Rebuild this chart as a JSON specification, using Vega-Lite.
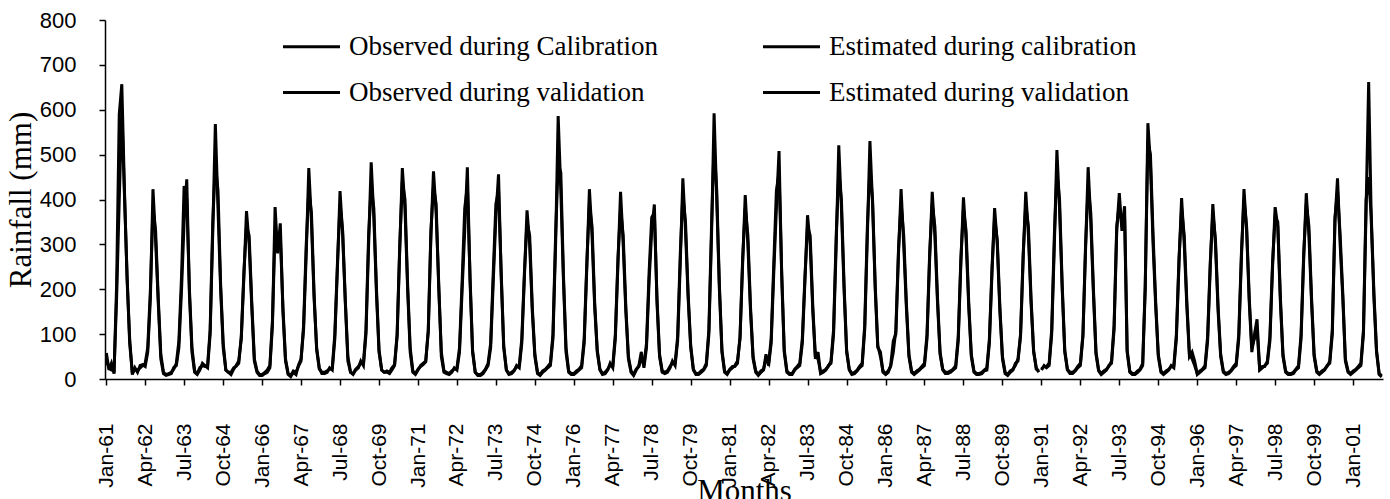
{
"$schema":"https://vega.github.io/schema/vega-lite/v6.json",
"width":1278,"height":359,
"autosize":"none",
"padding":{"left":105,"top":20,"right":7,"bottom":120},
"background":"white",
"config":{"view":{"stroke":null}},
"data":{"values":[
{"d":"1961-01","oc":58,"ec":40},{"d":"1961-02","oc":20,"ec":25},{"d":"1961-03","oc":35,"ec":20},{"d":"1961-04","oc":12,"ec":18},{"d":"1961-05","oc":210,"ec":180},{"d":"1961-06","oc":590,"ec":400},{"d":"1961-07","oc":657,"ec":600},{"d":"1961-08","oc":420,"ec":410},{"d":"1961-09","oc":220,"ec":230},{"d":"1961-10","oc":90,"ec":80},{"d":"1961-11","oc":10,"ec":15},{"d":"1961-12","oc":25,"ec":20},
{"d":"1962-01","oc":15,"ec":20},{"d":"1962-02","oc":30,"ec":25},{"d":"1962-03","oc":32,"ec":30},{"d":"1962-04","oc":28,"ec":35},{"d":"1962-05","oc":60,"ec":70},{"d":"1962-06","oc":180,"ec":200},{"d":"1962-07","oc":423,"ec":380},{"d":"1962-08","oc":310,"ec":330},{"d":"1962-09","oc":170,"ec":180},{"d":"1962-10","oc":45,"ec":55},{"d":"1962-11","oc":12,"ec":15},{"d":"1962-12","oc":8,"ec":10},
{"d":"1963-01","oc":10,"ec":12},{"d":"1963-02","oc":12,"ec":15},{"d":"1963-03","oc":25,"ec":22},{"d":"1963-04","oc":30,"ec":35},{"d":"1963-05","oc":70,"ec":85},{"d":"1963-06","oc":200,"ec":230},{"d":"1963-07","oc":350,"ec":430},{"d":"1963-08","oc":445,"ec":400},{"d":"1963-09","oc":190,"ec":200},{"d":"1963-10","oc":60,"ec":70},{"d":"1963-11","oc":15,"ec":18},{"d":"1963-12","oc":10,"ec":12},
{"d":"1964-01","oc":20,"ec":25},{"d":"1964-02","oc":35,"ec":30},{"d":"1964-03","oc":30,"ec":28},{"d":"1964-04","oc":25,"ec":30},{"d":"1964-05","oc":100,"ec":110},{"d":"1964-06","oc":330,"ec":350},{"d":"1964-07","oc":568,"ec":480},{"d":"1964-08","oc":380,"ec":420},{"d":"1964-09","oc":200,"ec":210},{"d":"1964-10","oc":70,"ec":80},{"d":"1964-11","oc":20,"ec":20},{"d":"1964-12","oc":15,"ec":15},
{"d":"1965-01","oc":10,"ec":15},{"d":"1965-02","oc":22,"ec":25},{"d":"1965-03","oc":30,"ec":28},{"d":"1965-04","oc":40,"ec":35},{"d":"1965-05","oc":90,"ec":95},{"d":"1965-06","oc":230,"ec":240},{"d":"1965-07","oc":374,"ec":340},{"d":"1965-08","oc":300,"ec":320},{"d":"1965-09","oc":160,"ec":170},{"d":"1965-10","oc":40,"ec":45},{"d":"1965-11","oc":15,"ec":18},{"d":"1965-12","oc":8,"ec":10},
{"d":"1966-01","oc":8,"ec":10},{"d":"1966-02","oc":12,"ec":15},{"d":"1966-03","oc":15,"ec":20},{"d":"1966-04","oc":25,"ec":30},{"d":"1966-05","oc":120,"ec":130},{"d":"1966-06","oc":383,"ec":330},{"d":"1966-07","oc":280,"ec":300},{"d":"1966-08","oc":347,"ec":320},{"d":"1966-09","oc":150,"ec":160},{"d":"1966-10","oc":40,"ec":45},{"d":"1966-11","oc":10,"ec":12},{"d":"1966-12","oc":5,"ec":8},
{"d":"1967-01","oc":15,"ec":18},{"d":"1967-02","oc":10,"ec":15},{"d":"1967-03","oc":30,"ec":28},{"d":"1967-04","oc":45,"ec":40},{"d":"1967-05","oc":110,"ec":120},{"d":"1967-06","oc":280,"ec":300},{"d":"1967-07","oc":470,"ec":420},{"d":"1967-08","oc":350,"ec":370},{"d":"1967-09","oc":180,"ec":190},{"d":"1967-10","oc":70,"ec":65},{"d":"1967-11","oc":25,"ec":22},{"d":"1967-12","oc":12,"ec":15},
{"d":"1968-01","oc":12,"ec":15},{"d":"1968-02","oc":15,"ec":18},{"d":"1968-03","oc":25,"ec":22},{"d":"1968-04","oc":20,"ec":25},{"d":"1968-05","oc":90,"ec":100},{"d":"1968-06","oc":250,"ec":260},{"d":"1968-07","oc":419,"ec":390},{"d":"1968-08","oc":320,"ec":330},{"d":"1968-09","oc":170,"ec":175},{"d":"1968-10","oc":40,"ec":50},{"d":"1968-11","oc":15,"ec":15},{"d":"1968-12","oc":10,"ec":12},
{"d":"1969-01","oc":20,"ec":22},{"d":"1969-02","oc":25,"ec":28},{"d":"1969-03","oc":40,"ec":35},{"d":"1969-04","oc":30,"ec":35},{"d":"1969-05","oc":100,"ec":110},{"d":"1969-06","oc":300,"ec":320},{"d":"1969-07","oc":483,"ec":430},{"d":"1969-08","oc":360,"ec":380},{"d":"1969-09","oc":190,"ec":200},{"d":"1969-10","oc":60,"ec":65},{"d":"1969-11","oc":20,"ec":20},{"d":"1969-12","oc":15,"ec":15},
{"d":"1970-01","oc":15,"ec":18},{"d":"1970-02","oc":12,"ec":15},{"d":"1970-03","oc":20,"ec":25},{"d":"1970-04","oc":30,"ec":32},{"d":"1970-05","oc":95,"ec":100},{"d":"1970-06","oc":290,"ec":300},{"d":"1970-07","oc":470,"ec":440},{"d":"1970-08","oc":380,"ec":400},{"d":"1970-09","oc":200,"ec":210},{"d":"1970-10","oc":60,"ec":70},{"d":"1970-11","oc":15,"ec":18},{"d":"1970-12","oc":10,"ec":12},
{"d":"1971-01","oc":20,"ec":22},{"d":"1971-02","oc":30,"ec":28},{"d":"1971-03","oc":35,"ec":32},{"d":"1971-04","oc":40,"ec":38},{"d":"1971-05","oc":105,"ec":110},{"d":"1971-06","oc":320,"ec":330},{"d":"1971-07","oc":463,"ec":430},{"d":"1971-08","oc":370,"ec":390},{"d":"1971-09","oc":210,"ec":200},{"d":"1971-10","oc":50,"ec":60},{"d":"1971-11","oc":15,"ec":18},{"d":"1971-12","oc":12,"ec":15},
{"d":"1972-01","oc":10,"ec":12},{"d":"1972-02","oc":15,"ec":18},{"d":"1972-03","oc":25,"ec":22},{"d":"1972-04","oc":20,"ec":25},{"d":"1972-05","oc":60,"ec":70},{"d":"1972-06","oc":200,"ec":220},{"d":"1972-07","oc":330,"ec":380},{"d":"1972-08","oc":472,"ec":430},{"d":"1972-09","oc":220,"ec":230},{"d":"1972-10","oc":60,"ec":65},{"d":"1972-11","oc":15,"ec":15},{"d":"1972-12","oc":8,"ec":10},
{"d":"1973-01","oc":8,"ec":10},{"d":"1973-02","oc":12,"ec":15},{"d":"1973-03","oc":20,"ec":22},{"d":"1973-04","oc":30,"ec":35},{"d":"1973-05","oc":70,"ec":80},{"d":"1973-06","oc":220,"ec":240},{"d":"1973-07","oc":360,"ec":390},{"d":"1973-08","oc":456,"ec":420},{"d":"1973-09","oc":230,"ec":240},{"d":"1973-10","oc":70,"ec":75},{"d":"1973-11","oc":20,"ec":20},{"d":"1973-12","oc":10,"ec":12},
{"d":"1974-01","oc":12,"ec":15},{"d":"1974-02","oc":18,"ec":20},{"d":"1974-03","oc":30,"ec":28},{"d":"1974-04","oc":25,"ec":30},{"d":"1974-05","oc":80,"ec":90},{"d":"1974-06","oc":230,"ec":240},{"d":"1974-07","oc":376,"ec":350},{"d":"1974-08","oc":300,"ec":320},{"d":"1974-09","oc":150,"ec":160},{"d":"1974-10","oc":50,"ec":55},{"d":"1974-11","oc":12,"ec":15},{"d":"1974-12","oc":8,"ec":10},
{"d":"1975-01","oc":15,"ec":18},{"d":"1975-02","oc":20,"ec":22},{"d":"1975-03","oc":25,"ec":28},{"d":"1975-04","oc":30,"ec":35},{"d":"1975-05","oc":90,"ec":100},{"d":"1975-06","oc":300,"ec":320},{"d":"1975-07","oc":586,"ec":480},{"d":"1975-08","oc":420,"ec":460},{"d":"1975-09","oc":220,"ec":230},{"d":"1975-10","oc":60,"ec":70},{"d":"1975-11","oc":15,"ec":18},{"d":"1975-12","oc":10,"ec":12},
{"d":"1976-01","oc":10,"ec":12},{"d":"1976-02","oc":15,"ec":18},{"d":"1976-03","oc":20,"ec":22},{"d":"1976-04","oc":25,"ec":30},{"d":"1976-05","oc":80,"ec":90},{"d":"1976-06","oc":250,"ec":260},{"d":"1976-07","oc":423,"ec":390},{"d":"1976-08","oc":320,"ec":340},{"d":"1976-09","oc":160,"ec":170},{"d":"1976-10","oc":60,"ec":65},{"d":"1976-11","oc":20,"ec":22},{"d":"1976-12","oc":10,"ec":12},
{"d":"1977-01","oc":12,"ec":15},{"d":"1977-02","oc":20,"ec":22},{"d":"1977-03","oc":35,"ec":30},{"d":"1977-04","oc":25,"ec":30},{"d":"1977-05","oc":90,"ec":100},{"d":"1977-06","oc":260,"ec":270},{"d":"1977-07","oc":417,"ec":380},{"d":"1977-08","oc":300,"ec":320},{"d":"1977-09","oc":150,"ec":160},{"d":"1977-10","oc":45,"ec":50},{"d":"1977-11","oc":15,"ec":18},{"d":"1977-12","oc":8,"ec":10},
{"d":"1978-01","oc":20,"ec":22},{"d":"1978-02","oc":30,"ec":28},{"d":"1978-03","oc":60,"ec":50},{"d":"1978-04","oc":25,"ec":30},{"d":"1978-05","oc":70,"ec":80},{"d":"1978-06","oc":220,"ec":240},{"d":"1978-07","oc":330,"ec":360},{"d":"1978-08","oc":389,"ec":370},{"d":"1978-09","oc":170,"ec":180},{"d":"1978-10","oc":50,"ec":55},{"d":"1978-11","oc":15,"ec":18},{"d":"1978-12","oc":12,"ec":15},
{"d":"1979-01","oc":15,"ec":18},{"d":"1979-02","oc":25,"ec":28},{"d":"1979-03","oc":40,"ec":35},{"d":"1979-04","oc":30,"ec":35},{"d":"1979-05","oc":85,"ec":95},{"d":"1979-06","oc":260,"ec":280},{"d":"1979-07","oc":447,"ec":410},{"d":"1979-08","oc":330,"ec":350},{"d":"1979-09","oc":180,"ec":190},{"d":"1979-10","oc":70,"ec":75},{"d":"1979-11","oc":20,"ec":22},{"d":"1979-12","oc":10,"ec":12},
{"d":"1980-01","oc":10,"ec":12},{"d":"1980-02","oc":15,"ec":18},{"d":"1980-03","oc":20,"ec":22},{"d":"1980-04","oc":30,"ec":35},{"d":"1980-05","oc":100,"ec":110},{"d":"1980-06","oc":320,"ec":340},{"d":"1980-07","oc":592,"ec":520},{"d":"1980-08","oc":400,"ec":420},{"d":"1980-09","oc":200,"ec":210},{"d":"1980-10","oc":60,"ec":65},{"d":"1980-11","oc":15,"ec":18},{"d":"1980-12","oc":10,"ec":12},
{"d":"1981-01","oc":20,"ec":22},{"d":"1981-02","oc":25,"ec":28},{"d":"1981-03","oc":30,"ec":28},{"d":"1981-04","oc":40,"ec":35},{"d":"1981-05","oc":90,"ec":95},{"d":"1981-06","oc":260,"ec":270},{"d":"1981-07","oc":410,"ec":380},{"d":"1981-08","oc":300,"ec":320},{"d":"1981-09","oc":150,"ec":160},{"d":"1981-10","oc":45,"ec":50},{"d":"1981-11","oc":15,"ec":18},{"d":"1981-12","oc":8,"ec":10},
{"d":"1982-01","oc":15,"ec":18},{"d":"1982-02","oc":20,"ec":22},{"d":"1982-03","oc":55,"ec":45},{"d":"1982-04","oc":30,"ec":35},{"d":"1982-05","oc":80,"ec":90},{"d":"1982-06","oc":240,"ec":260},{"d":"1982-07","oc":380,"ec":420},{"d":"1982-08","oc":508,"ec":460},{"d":"1982-09","oc":230,"ec":240},{"d":"1982-10","oc":60,"ec":65},{"d":"1982-11","oc":15,"ec":18},{"d":"1982-12","oc":10,"ec":12},
{"d":"1983-01","oc":10,"ec":12},{"d":"1983-02","oc":20,"ec":22},{"d":"1983-03","oc":25,"ec":28},{"d":"1983-04","oc":30,"ec":35},{"d":"1983-05","oc":80,"ec":90},{"d":"1983-06","oc":220,"ec":230},{"d":"1983-07","oc":365,"ec":340},{"d":"1983-08","oc":300,"ec":320},{"d":"1983-09","oc":150,"ec":160},{"d":"1983-10","oc":45,"ec":50},{"d":"1983-11","oc":60,"ec":45},{"d":"1983-12","oc":12,"ec":15},
{"d":"1984-01","oc":15,"ec":18},{"d":"1984-02","oc":20,"ec":22},{"d":"1984-03","oc":30,"ec":28},{"d":"1984-04","oc":35,"ec":40},{"d":"1984-05","oc":100,"ec":110},{"d":"1984-06","oc":300,"ec":320},{"d":"1984-07","oc":521,"ec":460},{"d":"1984-08","oc":380,"ec":400},{"d":"1984-09","oc":200,"ec":210},{"d":"1984-10","oc":60,"ec":65},{"d":"1984-11","oc":20,"ec":22},{"d":"1984-12","oc":10,"ec":12},
{"d":"1985-01","oc":12,"ec":15},{"d":"1985-02","oc":18,"ec":20},{"d":"1985-03","oc":25,"ec":28},{"d":"1985-04","oc":30,"ec":35},{"d":"1985-05","oc":110,"ec":120},{"d":"1985-06","oc":320,"ec":340},{"d":"1985-07","oc":530,"ec":470},{"d":"1985-08","oc":390,"ec":400},{"d":"1985-09","oc":200,"ec":210},{"d":"1985-10","oc":70,"ec":75},{"d":"1985-11","oc":60,"ec":50},{"d":"1985-12","oc":15,"ec":18},
{"d":"1986-01","oc":10,"ec":12},{"d":"1986-02","oc":15,"ec":18},{"d":"1986-03","oc":30,"ec":28},{"d":"1986-04","oc":85,"ec":60},{"d":"1986-05","oc":100,"ec":110},{"d":"1986-06","oc":280,"ec":290},{"d":"1986-07","oc":423,"ec":390},{"d":"1986-08","oc":300,"ec":320},{"d":"1986-09","oc":160,"ec":170},{"d":"1986-10","oc":50,"ec":55},{"d":"1986-11","oc":15,"ec":18},{"d":"1986-12","oc":10,"ec":12},
{"d":"1987-01","oc":15,"ec":18},{"d":"1987-02","oc":20,"ec":22},{"d":"1987-03","oc":25,"ec":28},{"d":"1987-04","oc":30,"ec":35},{"d":"1987-05","oc":90,"ec":100},{"d":"1987-06","oc":270,"ec":280},{"d":"1987-07","oc":417,"ec":390},{"d":"1987-08","oc":320,"ec":340},{"d":"1987-09","oc":170,"ec":180},{"d":"1987-10","oc":55,"ec":60},{"d":"1987-11","oc":20,"ec":22},{"d":"1987-12","oc":12,"ec":15},
{"d":"1988-01","oc":12,"ec":15},{"d":"1988-02","oc":15,"ec":18},{"d":"1988-03","oc":20,"ec":22},{"d":"1988-04","oc":25,"ec":30},{"d":"1988-05","oc":85,"ec":95},{"d":"1988-06","oc":260,"ec":270},{"d":"1988-07","oc":405,"ec":380},{"d":"1988-08","oc":310,"ec":330},{"d":"1988-09","oc":160,"ec":170},{"d":"1988-10","oc":50,"ec":55},{"d":"1988-11","oc":15,"ec":18},{"d":"1988-12","oc":10,"ec":12},
{"d":"1989-01","oc":10,"ec":12},{"d":"1989-02","oc":12,"ec":15},{"d":"1989-03","oc":18,"ec":20},{"d":"1989-04","oc":20,"ec":25},{"d":"1989-05","oc":80,"ec":90},{"d":"1989-06","oc":240,"ec":250},{"d":"1989-07","oc":381,"ec":360},{"d":"1989-08","oc":300,"ec":310},{"d":"1989-09","oc":150,"ec":160},{"d":"1989-10","oc":45,"ec":50},{"d":"1989-11","oc":12,"ec":15},{"d":"1989-12","oc":8,"ec":10},
{"d":"1990-01","oc":15,"ec":18},{"d":"1990-02","oc":20,"ec":22},{"d":"1990-03","oc":35,"ec":30},{"d":"1990-04","oc":40,"ec":45},{"d":"1990-05","oc":95,"ec":100},{"d":"1990-06","oc":270,"ec":280},{"d":"1990-07","oc":417,"ec":390},{"d":"1990-08","oc":320,"ec":340},{"d":"1990-09","oc":170,"ec":180},{"d":"1990-10","oc":60,"ec":65},{"d":"1990-11","oc":25,"ec":22},{"d":"1990-12","oc":15,"ec":18},
{"d":"1991-01","ov":20,"ev":22},{"d":"1991-02","ov":30,"ev":28},{"d":"1991-03","ov":25,"ev":28},{"d":"1991-04","ov":30,"ev":35},{"d":"1991-05","ov":100,"ev":110},{"d":"1991-06","ov":300,"ev":320},{"d":"1991-07","ov":510,"ev":460},{"d":"1991-08","ov":380,"ev":400},{"d":"1991-09","ov":200,"ev":210},{"d":"1991-10","ov":60,"ev":65},{"d":"1991-11","ov":20,"ev":22},{"d":"1991-12","ov":12,"ev":15},
{"d":"1992-01","ov":12,"ev":15},{"d":"1992-02","ov":18,"ev":20},{"d":"1992-03","ov":25,"ev":28},{"d":"1992-04","ov":30,"ev":35},{"d":"1992-05","ov":95,"ev":100},{"d":"1992-06","ov":290,"ev":300},{"d":"1992-07","ov":472,"ev":430},{"d":"1992-08","ov":350,"ev":370},{"d":"1992-09","ov":190,"ev":200},{"d":"1992-10","ov":55,"ev":60},{"d":"1992-11","ov":18,"ev":20},{"d":"1992-12","ov":10,"ev":12},
{"d":"1993-01","ov":15,"ev":18},{"d":"1993-02","ov":20,"ev":22},{"d":"1993-03","ov":30,"ev":28},{"d":"1993-04","ov":35,"ev":40},{"d":"1993-05","ov":110,"ev":120},{"d":"1993-06","ov":330,"ev":340},{"d":"1993-07","ov":414,"ev":390},{"d":"1993-08","ov":330,"ev":340},{"d":"1993-09","ov":385,"ev":360},{"d":"1993-10","ov":60,"ev":65},{"d":"1993-11","ov":15,"ev":18},{"d":"1993-12","ov":10,"ev":12},
{"d":"1994-01","ov":10,"ev":12},{"d":"1994-02","ov":15,"ev":18},{"d":"1994-03","ov":20,"ev":22},{"d":"1994-04","ov":30,"ev":35},{"d":"1994-05","ov":200,"ev":210},{"d":"1994-06","ov":570,"ev":530},{"d":"1994-07","ov":480,"ev":500},{"d":"1994-08","ov":300,"ev":320},{"d":"1994-09","ov":160,"ev":170},{"d":"1994-10","ov":50,"ev":55},{"d":"1994-11","ov":15,"ev":18},{"d":"1994-12","ov":10,"ev":12},
{"d":"1995-01","ov":15,"ev":18},{"d":"1995-02","ov":20,"ev":22},{"d":"1995-03","ov":30,"ev":28},{"d":"1995-04","ov":25,"ev":30},{"d":"1995-05","ov":90,"ev":100},{"d":"1995-06","ov":260,"ev":270},{"d":"1995-07","ov":403,"ev":380},{"d":"1995-08","ov":300,"ev":320},{"d":"1995-09","ov":160,"ev":170},{"d":"1995-10","ov":50,"ev":55},{"d":"1995-11","ov":60,"ev":45},{"d":"1995-12","ov":40,"ev":30},
{"d":"1996-01","ov":10,"ev":12},{"d":"1996-02","ov":15,"ev":18},{"d":"1996-03","ov":20,"ev":22},{"d":"1996-04","ov":25,"ev":30},{"d":"1996-05","ov":85,"ev":95},{"d":"1996-06","ov":250,"ev":260},{"d":"1996-07","ov":390,"ev":370},{"d":"1996-08","ov":300,"ev":310},{"d":"1996-09","ov":150,"ev":160},{"d":"1996-10","ov":50,"ev":55},{"d":"1996-11","ov":15,"ev":18},{"d":"1996-12","ov":10,"ev":12},
{"d":"1997-01","ov":12,"ev":15},{"d":"1997-02","ov":18,"ev":20},{"d":"1997-03","ov":25,"ev":28},{"d":"1997-04","ov":30,"ev":35},{"d":"1997-05","ov":90,"ev":100},{"d":"1997-06","ov":270,"ev":280},{"d":"1997-07","ov":423,"ev":400},{"d":"1997-08","ov":330,"ev":340},{"d":"1997-09","ov":170,"ev":180},{"d":"1997-10","ov":60,"ev":70},{"d":"1997-11","ov":100,"ev":90},{"d":"1997-12","ov":133,"ev":110},
{"d":"1998-01","ov":20,"ev":22},{"d":"1998-02","ov":25,"ev":28},{"d":"1998-03","ov":30,"ev":28},{"d":"1998-04","ov":35,"ev":40},{"d":"1998-05","ov":85,"ev":95},{"d":"1998-06","ov":250,"ev":260},{"d":"1998-07","ov":383,"ev":360},{"d":"1998-08","ov":340,"ev":350},{"d":"1998-09","ov":170,"ev":180},{"d":"1998-10","ov":50,"ev":55},{"d":"1998-11","ov":15,"ev":18},{"d":"1998-12","ov":10,"ev":12},
{"d":"1999-01","ov":10,"ev":12},{"d":"1999-02","ov":12,"ev":15},{"d":"1999-03","ov":20,"ev":22},{"d":"1999-04","ov":25,"ev":30},{"d":"1999-05","ov":90,"ev":100},{"d":"1999-06","ov":270,"ev":280},{"d":"1999-07","ov":414,"ev":390},{"d":"1999-08","ov":320,"ev":340},{"d":"1999-09","ov":170,"ev":180},{"d":"1999-10","ov":50,"ev":55},{"d":"1999-11","ov":15,"ev":18},{"d":"1999-12","ov":10,"ev":12},
{"d":"2000-01","ov":15,"ev":18},{"d":"2000-02","ov":20,"ev":22},{"d":"2000-03","ov":30,"ev":28},{"d":"2000-04","ov":35,"ev":40},{"d":"2000-05","ov":100,"ev":110},{"d":"2000-06","ov":350,"ev":360},{"d":"2000-07","ov":447,"ev":420},{"d":"2000-08","ov":300,"ev":320},{"d":"2000-09","ov":180,"ev":190},{"d":"2000-10","ov":40,"ev":45},{"d":"2000-11","ov":15,"ev":18},{"d":"2000-12","ov":10,"ev":12},
{"d":"2001-01","ov":15,"ev":18},{"d":"2001-02","ov":20,"ev":22},{"d":"2001-03","ov":25,"ev":28},{"d":"2001-04","ov":30,"ev":35},{"d":"2001-05","ov":100,"ev":110},{"d":"2001-06","ov":380,"ev":400},{"d":"2001-07","ov":662,"ev":450},{"d":"2001-08","ov":350,"ev":360},{"d":"2001-09","ov":180,"ev":190},{"d":"2001-10","ov":60,"ev":65},{"d":"2001-11","ov":10,"ev":12},{"d":"2001-12","ov":5,"ev":8}
]},
"transform":[
{"fold":["oc","ec","ov","ev"],"as":["k","v"]},
{"filter":"isValid(datum.v)"}
],
"mark":{"type":"line","strokeWidth":3,"strokeJoin":"miter"},
"encoding":{
"x":{"field":"d","type":"temporal",
"scale":{"type":"utc","domain":[{"year":1960,"month":12,"date":16,"utc":true},{"year":2001,"month":12,"date":16,"utc":true}]},
"axis":{"values":[
{"year":1961,"month":1,"date":1,"utc":true},{"year":1962,"month":4,"date":1,"utc":true},{"year":1963,"month":7,"date":1,"utc":true},{"year":1964,"month":10,"date":1,"utc":true},
{"year":1966,"month":1,"date":1,"utc":true},{"year":1967,"month":4,"date":1,"utc":true},{"year":1968,"month":7,"date":1,"utc":true},{"year":1969,"month":10,"date":1,"utc":true},
{"year":1971,"month":1,"date":1,"utc":true},{"year":1972,"month":4,"date":1,"utc":true},{"year":1973,"month":7,"date":1,"utc":true},{"year":1974,"month":10,"date":1,"utc":true},
{"year":1976,"month":1,"date":1,"utc":true},{"year":1977,"month":4,"date":1,"utc":true},{"year":1978,"month":7,"date":1,"utc":true},{"year":1979,"month":10,"date":1,"utc":true},
{"year":1981,"month":1,"date":1,"utc":true},{"year":1982,"month":4,"date":1,"utc":true},{"year":1983,"month":7,"date":1,"utc":true},{"year":1984,"month":10,"date":1,"utc":true},
{"year":1986,"month":1,"date":1,"utc":true},{"year":1987,"month":4,"date":1,"utc":true},{"year":1988,"month":7,"date":1,"utc":true},{"year":1989,"month":10,"date":1,"utc":true},
{"year":1991,"month":1,"date":1,"utc":true},{"year":1992,"month":4,"date":1,"utc":true},{"year":1993,"month":7,"date":1,"utc":true},{"year":1994,"month":10,"date":1,"utc":true},
{"year":1996,"month":1,"date":1,"utc":true},{"year":1997,"month":4,"date":1,"utc":true},{"year":1998,"month":7,"date":1,"utc":true},{"year":1999,"month":10,"date":1,"utc":true},
{"year":2001,"month":1,"date":1,"utc":true}],
"labelExpr":"utcFormat(datum.value, '%b-%y')",
"labelAngle":-90,"labelFont":"Liberation Sans","labelFontSize":21,"labelColor":"black","labelPadding":38,"labelOverlap":false,"labelFlush":false,"labelBound":false,
"tickSize":6,"tickColor":"black","tickWidth":1.5,"domainColor":"black","domainWidth":1.5,"grid":false,
"title":"Months","titleFont":"Liberation Serif","titleFontSize":31,"titleFontWeight":"normal","titleColor":"black","titleY":97,"titleBaseline":"top"}},
"y":{"field":"v","type":"quantitative",
"scale":{"domain":[0,800],"nice":false},
"axis":{"values":[0,100,200,300,400,500,600,700,800],"labelFont":"Liberation Sans","labelFontSize":22,"labelColor":"black","labelPadding":23,
"tickSize":6,"tickColor":"black","tickWidth":1.5,"domainColor":"black","domainWidth":1.5,"grid":false,
"title":"Rainfall (mm)","titleFont":"Liberation Serif","titleFontSize":31,"titleFontWeight":"normal","titleColor":"black","titleX":-84,"titleBaseline":"middle"}},
"color":{"field":"k","type":"nominal",
"scale":{"domain":["oc","ov","ec","ev"],"range":["#000000","#000000","#000000","#000000"]},
"legend":{"orient":"none","legendX":193,"legendY":13,"columns":2,"title":null,"padding":0,
"symbolType":"M-2.5,0H2.5","symbolSize":520,"symbolStrokeWidth":3,"symbolFillColor":"transparent",
"labelFont":"Liberation Serif","labelFontSize":27,"labelColor":"black","labelLimit":600,"labelOffset":24,
"columnPadding":98,"rowPadding":18,
"labelExpr":"datum.label == 'oc' ? 'Observed during Calibration' : datum.label == 'ec' ? 'Estimated during calibration' : datum.label == 'ov' ? 'Observed during validation' : 'Estimated during validation'"}}
}
}
